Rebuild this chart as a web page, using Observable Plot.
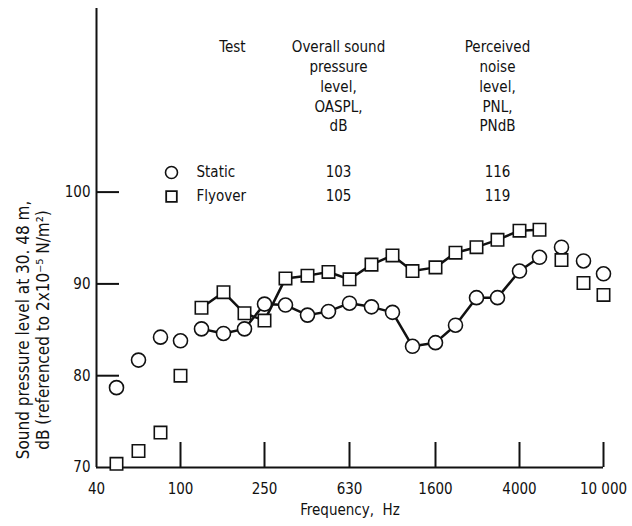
<!DOCTYPE html>
<html>
<head>
<meta charset="utf-8">
<script src="https://cdn.jsdelivr.net/npm/d3@7"></script>
<script src="https://cdn.jsdelivr.net/npm/@observablehq/plot@0.6"></script>
<style>
  html, body { margin: 0; padding: 0; background: #fff; }
  #chart svg { display: block; }
</style>
</head>
<body>
<div id="chart"></div>
<script>
// One-third-octave band center frequencies, Hz
const freqs = [50, 63, 80, 100, 125, 160, 200, 250, 315, 400, 500, 630, 800, 1000, 1250, 1600, 2000, 2500, 3150, 4000, 5000, 6300, 8000, 10000];
// Sound pressure level, dB
const staticSPL = [78.7, 81.7, 84.2, 83.8, 85.1, 84.6, 85.1, 87.8, 87.7, 86.6, 87.0, 87.9, 87.5, 86.9, 83.2, 83.6, 85.5, 88.5, 88.5, 91.4, 92.9, 94.0, 92.5, 91.1];
const flyoverSPL = [70.4, 71.8, 73.8, 80.0, 87.4, 89.1, 86.8, 86.0, 90.6, 90.9, 91.3, 90.5, 92.1, 93.1, 91.4, 91.8, 93.4, 94.0, 94.8, 95.8, 95.9, 92.6, 90.1, 88.8];
// Range of bands joined by a line
const lineFrom = 125, lineTo = 5000;

const xTicks = [40, 100, 250, 630, 1600, 4000, 10000];
const xTickLabels = ["40", "100", "250", "630", "1600", "4000", "10 000"];
const yTicks = [70, 80, 90, 100];

const legendHeaders = ["Test", "Overall sound\npressure\nlevel,\nOASPL,\ndB", "Perceived\nnoise\nlevel,\nPNL,\nPNdB"];
const legendTests = ["Static", "Flyover"];
const legendOASPL = ["103", "105"];
const legendPNL = ["116", "119"];

const W = 632, H = 526;
const mL = 96, mR = 29, mT = 8, mB = 59;
const frameW = W - mL - mR, frameH = H - mT - mB;

const staticData = freqs.map((f, i) => ({f, v: staticSPL[i]}));
const flyData = freqs.map((f, i) => ({f, v: flyoverSPL[i]}));
const inLine = d => d.f >= lineFrom && d.f <= lineTo;
const xTickData = xTicks.map((f, i) => ({f, label: xTickLabels[i]}));

const FONT = "'DejaVu Sans Condensed', 'Liberation Sans Narrow', 'Liberation Sans', sans-serif";
const ink = "#111";
const fs = 15;
const rowY = [164, 188];

const chart = Plot.plot({
  width: W, height: H,
  marginLeft: mL, marginRight: mR, marginTop: mT, marginBottom: mB,
  style: {fontFamily: FONT, fontSize: fs + "px", color: ink, background: "#fff", overflow: "visible"},
  x: {type: "log", domain: [40, 10000], round: true, axis: null},
  y: {domain: [70, 120], axis: null},
  marks: [
    // axis lines
    Plot.ruleX([40], {stroke: ink, strokeWidth: 2}),
    Plot.ruleY([70], {stroke: ink, strokeWidth: 2}),
    // inward ticks
    Plot.ruleX(xTicks.slice(1), {x: d => d, insetTop: frameH - 25, stroke: ink, strokeWidth: 2}),
    Plot.ruleY(yTicks.slice(1), {y: d => d, insetRight: frameW - 23, stroke: ink, strokeWidth: 2}),
    // tick labels and titles
    Plot.text(xTickData, {x: "f", text: "label", frameAnchor: "bottom", dy: 22, textAnchor: "middle", lineAnchor: "middle", fontSize: fs, fill: ink}),
    Plot.text(yTicks, {y: d => d, text: d => String(d), frameAnchor: "left", dx: -6, textAnchor: "end", lineAnchor: "middle", fontSize: fs, fill: ink}),
    Plot.text(["Frequency,  Hz"], {frameAnchor: "bottom", dy: 43, fontSize: fs, fill: ink, textAnchor: "middle", lineAnchor: "middle"}),
    Plot.text(["Sound pressure level at 30. 48 m,\ndB (referenced to 2x10⁻⁵ N/m²)"], {frameAnchor: "left", rotate: -90, textAnchor: "middle", lineAnchor: "middle", dx: -64, dy: 92, lineHeight: 1.2, fontSize: 17, fill: ink}),
    // connecting lines
    Plot.line(staticData.filter(inLine), {x: "f", y: "v", stroke: ink, strokeWidth: 2.5}),
    Plot.line(flyData.filter(inLine), {x: "f", y: "v", stroke: ink, strokeWidth: 2.5}),
    // markers
    Plot.dot(staticData, {x: "f", y: "v", symbol: "circle", r: 7, fill: "#fff", stroke: ink, strokeWidth: 1.6}),
    Plot.dot(flyData, {x: "f", y: "v", symbol: "square", r: 7, fill: "#fff", stroke: ink, strokeWidth: 1.6}),
    // legend table
    Plot.text([legendHeaders[0]], {frameAnchor: "top-left", dx: 136, dy: 29, textAnchor: "middle", lineAnchor: "top", lineHeight: 1.33, fontSize: fs, fill: ink}),
    Plot.text([legendHeaders[1]], {frameAnchor: "top-left", dx: 242, dy: 29, textAnchor: "middle", lineAnchor: "top", lineHeight: 1.33, fontSize: fs, fill: ink}),
    Plot.text([legendHeaders[2]], {frameAnchor: "top-left", dx: 401, dy: 29, textAnchor: "middle", lineAnchor: "top", lineHeight: 1.33, fontSize: fs, fill: ink}),
    Plot.dot([0], {frameAnchor: "top-left", dx: 75, dy: rowY[0], symbol: "circle", r: 6, fill: "#fff", stroke: ink, strokeWidth: 1.6}),
    Plot.dot([0], {frameAnchor: "top-left", dx: 75, dy: rowY[1], symbol: "square", r: 6, fill: "#fff", stroke: ink, strokeWidth: 1.8}),
    ...[0, 1].flatMap(i => [
      Plot.text([legendTests[i]], {frameAnchor: "top-left", dx: 100, dy: rowY[i], textAnchor: "start", lineAnchor: "middle", fontSize: fs, fill: ink}),
      Plot.text([legendOASPL[i]], {frameAnchor: "top-left", dx: 242, dy: rowY[i], textAnchor: "middle", lineAnchor: "middle", fontSize: fs, fill: ink}),
      Plot.text([legendPNL[i]], {frameAnchor: "top-left", dx: 401, dy: rowY[i], textAnchor: "middle", lineAnchor: "middle", fontSize: fs, fill: ink})
    ])
  ]
});
document.getElementById("chart").appendChild(chart);
</script>
</body>
</html>
